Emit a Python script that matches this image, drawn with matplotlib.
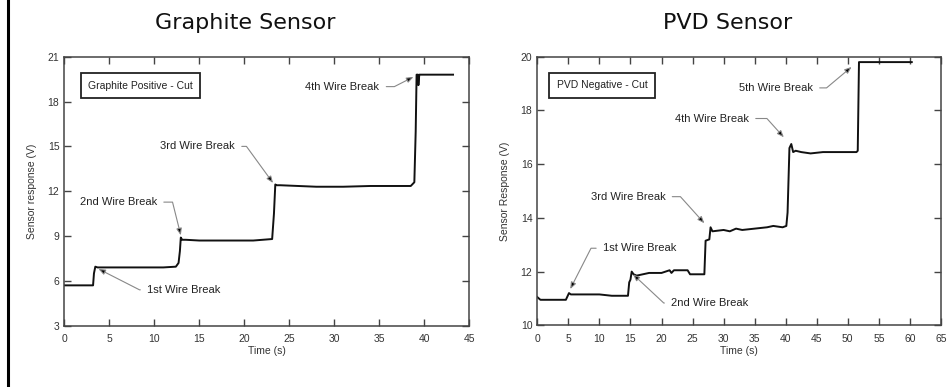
import matplotlib
matplotlib.use("Agg")
import matplotlib.pyplot as plt
from matplotlib.lines import Line2D

# Graphite sensor trace
t_graphite = [0, 3.2, 3.3, 3.45, 3.7, 5, 7, 9, 11, 12.4, 12.7, 12.85, 12.95, 13.1, 13.5,
              15, 18, 21, 23.1, 23.3, 23.45, 23.6, 24, 26, 28, 31, 34, 37, 38.5,
              38.9, 39.05, 39.15, 39.3, 39.35, 39.45, 40, 43.2]
v_graphite = [5.7, 5.7, 6.5, 6.95, 6.9, 6.9, 6.9, 6.9, 6.9, 6.95, 7.2, 8.0, 8.9, 8.75, 8.75,
              8.7, 8.7, 8.7, 8.8, 10.5, 12.45, 12.4, 12.4, 12.35, 12.3, 12.3, 12.35, 12.35, 12.35,
              12.6, 16.0, 19.8, 19.8, 19.1, 19.8, 19.8, 19.8]

# PVD sensor trace
t_pvd = [0, 0.5, 1, 3, 4.6, 4.9, 5.1, 5.4, 7, 10, 12, 14.6, 14.8, 15.0, 15.2, 15.5, 16, 18, 20,
         21.3, 21.6, 22, 23, 24.2, 24.6, 26, 26.9, 27.1, 27.7, 27.9, 28.2, 30, 31, 32, 33, 35, 37,
         38, 39.5, 40.1, 40.3, 40.6, 40.9, 41.2, 41.6, 42.5, 44, 46, 48, 51.4, 51.6, 51.8, 55, 60.3]
v_pvd = [11.05, 10.95, 10.95, 10.95, 10.95, 11.1, 11.2, 11.15, 11.15, 11.15, 11.1, 11.1, 11.6, 11.7,
         12.0, 11.9, 11.85, 11.95, 11.95, 12.05, 11.95, 12.05, 12.05, 12.05, 11.9, 11.9, 11.9, 13.15,
         13.2, 13.65, 13.5, 13.55, 13.5, 13.6, 13.55, 13.6, 13.65, 13.7, 13.65, 13.7, 14.2, 16.6,
         16.75, 16.45, 16.5, 16.45, 16.4, 16.45, 16.45, 16.45, 16.5, 19.8, 19.8, 19.8]

# annotations: label, arrow tip (t, v), text position (t, v), angle of the last leg
notes_graphite = [
    ("1st Wire Break", (3.8, 6.8), (13.3, 5.4), 153),
    ("2nd Wire Break", (12.95, 9.05), (6.0, 11.27), -76),
    ("3rd Wire Break", (23.2, 12.55), (14.8, 15.0), -54),
    ("4th Wire Break", (38.8, 19.65), (30.9, 19.0), 27),
]
notes_pvd = [
    ("1st Wire Break", (5.3, 11.35), (16.5, 12.87), 63),
    ("2nd Wire Break", (15.4, 11.9), (27.8, 10.83), 137),
    ("3rd Wire Break", (26.9, 13.8), (14.6, 14.79), -48),
    ("4th Wire Break", (39.7, 17.0), (28.1, 17.7), -48),
    ("5th Wire Break", (50.6, 19.62), (38.4, 18.84), 40),
]

tick_col = "#333333"
spine_col = "#444444"

fig = plt.figure(figsize=(9.52, 3.87), dpi=100)
fig.add_artist(Line2D([8 / 952, 8 / 952], [0, 1], transform=fig.transFigure,
                      color="black", lw=2.2))

ax1 = fig.add_axes([0.0675, 0.1584, 0.4254, 0.695])
ax2 = fig.add_axes([0.5644, 0.1594, 0.4240, 0.694])


def style(ax, t, v, notes, xmax, ylim, ystep, ylabel, box_text, box_x):
    ax.plot(t, v, color="#111111", lw=1.4)
    ax.set_xlim(0, xmax)
    ax.set_ylim(*ylim)
    ax.set_xticks(range(0, xmax + 1, 5))
    ax.set_yticks(range(ylim[0], ylim[1] + 1, ystep))
    ax.tick_params(direction="in", top=True, right=True, length=5, width=1,
                   color=spine_col, labelsize=7.5, labelcolor=tick_col)
    ax.tick_params(axis="x", pad=6)
    ax.tick_params(axis="y", pad=3.5)
    for sp in ax.spines.values():
        sp.set_color(spine_col)
        sp.set_linewidth(1.1)
    ax.set_xlabel("Time (s)", fontsize=7.5, color=tick_col, labelpad=1.5,
                  family="Liberation Sans")
    ax.set_ylabel(ylabel, fontsize=7.5, color=tick_col, labelpad=8,
                  family="Liberation Sans")
    for lab in ax.get_xticklabels() + ax.get_yticklabels():
        lab.set_family("Liberation Sans")
    ax.text(box_x, 0.893, box_text, transform=ax.transAxes, ha="center", va="center",
            fontsize=7.5, color="#222222", family="Liberation Sans",
            bbox=dict(boxstyle="square,pad=0.7", fc="white", ec="#222222", lw=1.3))
    for label, tip, pos, ang in notes:
        ax.annotate(label, xy=tip, xytext=pos, ha="center", va="center",
                    fontsize=8, color="#222222", family="Liberation Sans",
                    arrowprops=dict(arrowstyle="-|>,head_length=0.5,head_width=0.2",
                                    connectionstyle=f"angle,angleA=0,angleB={ang},rad=0",
                                    edgecolor="#888888", facecolor="black",
                                    lw=0.8, shrinkA=3, shrinkB=0))


style(ax1, t_graphite, v_graphite, notes_graphite, 45, (3, 21), 3,
      "Sensor response (V)", "Graphite Positive - Cut", 0.188)
style(ax2, t_pvd, v_pvd, notes_pvd, 65, (10, 20), 2,
      "Sensor Response (V)", "PVD Negative - Cut", 0.16)

fig.text(245 / 952, 1 - 29 / 387, "Graphite Sensor", ha="center", va="baseline",
         fontsize=16, color="#111111")
fig.text(728 / 952, 1 - 29 / 387, "PVD Sensor", ha="center", va="baseline",
         fontsize=16, color="#111111")

fig.savefig("out.png", dpi=100, facecolor="white")
